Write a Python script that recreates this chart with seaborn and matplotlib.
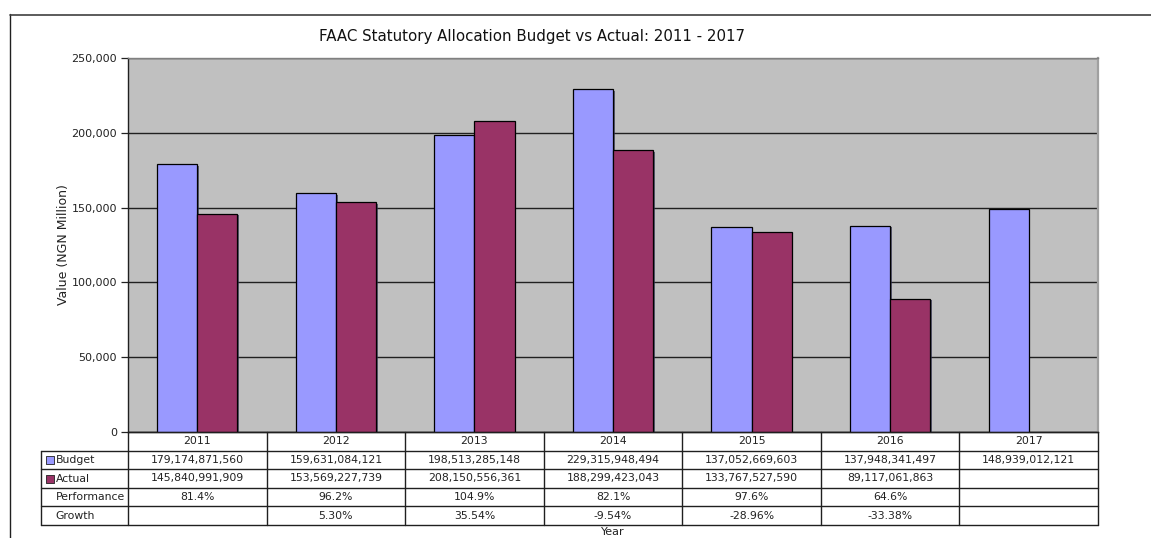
import numpy as np
import pandas as pd
import matplotlib
matplotlib.use("Agg")
import matplotlib.pyplot as plt
import matplotlib.patheffects as pe
from matplotlib.lines import Line2D
import seaborn as sns

# FAAC statutory allocation, NGN
years = ["2011", "2012", "2013", "2014", "2015", "2016", "2017"]
budget_ngn = [179174871560, 159631084121, 198513285148, 229315948494,
              137052669603, 137948341497, 148939012121]
actual_ngn = [145840991909, 153569227739, 208150556361, 188299423043,
              133767527590, 89117061863, None]
performance = ["81.4%", "96.2%", "104.9%", "82.1%", "97.6%", "64.6%", ""]
growth = ["", "5.30%", "35.54%", "-9.54%", "-28.96%", "-33.38%", ""]
series_names = ["Budget", "Actual"]
series_colors = ["#9999FF", "#993366"]

rows = []
for y, b, a in zip(years, budget_ngn, actual_ngn):
    rows.append({"Year": y, "Series": "Budget", "Value": b / 1e6})
    rows.append({"Year": y, "Series": "Actual",
                 "Value": np.nan if a is None else a / 1e6})
df = pd.DataFrame(rows)

sns.set_theme(style="white")
plt.rcParams["font.family"] = ["DejaVu Sans"]

W, H = 1151, 538
fig = plt.figure(figsize=(W / 100, H / 100), dpi=100)

px_l, px_r, px_t, px_b = 128, 1098, 58, 432
ax = fig.add_axes([px_l / W, 1 - px_b / H, (px_r - px_l) / W, (px_b - px_t) / H])
ax.set_facecolor("#C0C0C0")

sns.barplot(data=df, x="Year", y="Value", hue="Series", hue_order=series_names,
            palette=series_colors, saturation=1, width=0.58, edgecolor="black",
            linewidth=0.9, legend=False, ax=ax, zorder=3)
for p in ax.patches:
    p.set_path_effects([pe.SimplePatchShadow(offset=(1.2, -1.2), shadow_rgbFace="#303050",
                                             alpha=0.7), pe.Normal()])

ax.set_xlim(-0.5, len(years) - 0.5)
ax.set_ylim(0, 250000)
ax.set_yticks(np.arange(0, 250001, 50000))
ax.yaxis.set_major_formatter(matplotlib.ticker.FuncFormatter(lambda v, _: f"{int(v):,}"))
ax.tick_params(axis="y", labelsize=8, colors="#222222", length=5, width=0.9,
               direction="out", left=True, pad=3)
ax.tick_params(axis="x", bottom=False, labelbottom=False)
ax.set_xlabel("")
ax.set_ylabel("Value (NGN Million)", fontsize=9, color="#222222", labelpad=1)
ax.yaxis.grid(True, color="#202020", linewidth=1.0, zorder=1)
ax.set_axisbelow(True)
for side, col in [("left", "#202020"), ("bottom", "#202020"),
                  ("top", "#808080"), ("right", "#A0A0A0")]:
    ax.spines[side].set_visible(True)
    ax.spines[side].set_color(col)
    ax.spines[side].set_linewidth(1.0 if side != "right" else 1.6)

# Data table under the bars
tb_l, tb_t, tb_b = 41, 432, 525
tax = fig.add_axes([tb_l / W, 1 - tb_b / H, (px_r - tb_l) / W, (tb_b - tb_t) / H])
unit = (px_r - px_l) / len(years)
x0 = -0.5 - (px_l - tb_l) / unit
n = len(years)
tax.set_xlim(x0, n - 0.5)
tax.set_ylim(5, 0)
tax.set_axis_off()

lc = "#202020"
lw = 1.0
tax.plot([-0.5, n - 0.5], [0, 0], color=lc, lw=lw, clip_on=False)
for r in range(1, 6):
    tax.plot([x0, n - 0.5], [r, r], color=lc, lw=lw, clip_on=False)
tax.plot([x0, x0], [1, 5], color=lc, lw=lw, clip_on=False)
for k in range(n + 1):
    tax.plot([k - 0.5, k - 0.5], [0, 5], color=lc, lw=lw, clip_on=False)

fs = 7.8
tc = "#222222"
budget_txt = [f"{v:,}" for v in budget_ngn]
actual_txt = ["" if v is None else f"{v:,}" for v in actual_ngn]
for i in range(n):
    tax.text(i, 0.5, years[i], ha="center", va="center", fontsize=fs, color=tc)
    tax.text(i, 1.5, budget_txt[i], ha="center", va="center", fontsize=fs, color=tc)
    tax.text(i, 2.5, actual_txt[i], ha="center", va="center", fontsize=fs, color=tc)
    tax.text(i, 3.5, performance[i], ha="center", va="center", fontsize=fs, color=tc)
    tax.text(i, 4.5, growth[i], ha="center", va="center", fontsize=fs, color=tc)

key_x = x0 + 9 / unit
txt_x = x0 + 14.5 / unit
for r, (name, col) in enumerate(zip(series_names, series_colors), start=1):
    tax.scatter([key_x], [r + 0.5], marker="s", s=28, color=col,
                edgecolor="#202020", linewidth=0.6, clip_on=False)
    tax.text(txt_x, r + 0.5, name, ha="left", va="center", fontsize=fs, color=tc)
tax.text(txt_x, 3.5, "Performance", ha="left", va="center", fontsize=fs, color=tc)
tax.text(txt_x, 4.5, "Growth", ha="left", va="center", fontsize=fs, color=tc)

fig.text(613 / W, 1 - 537 / H, "Year", ha="center", va="bottom", fontsize=8, color=tc)
fig.text(532 / W, 1 - 36 / H, "FAAC Statutory Allocation Budget vs Actual: 2011 - 2017",
         ha="center", va="center", fontsize=10.8, color="#111111")

# Chart area frame
fig.add_artist(Line2D([9.5 / W, 9.5 / W], [0, 1 - 14 / H], color="#202020", lw=1.0))
fig.add_artist(Line2D([9.5 / W, 1], [1 - 14.5 / H, 1 - 14.5 / H], color="#404040", lw=1.2))

fig.savefig("out.png", dpi=100, facecolor="white")
